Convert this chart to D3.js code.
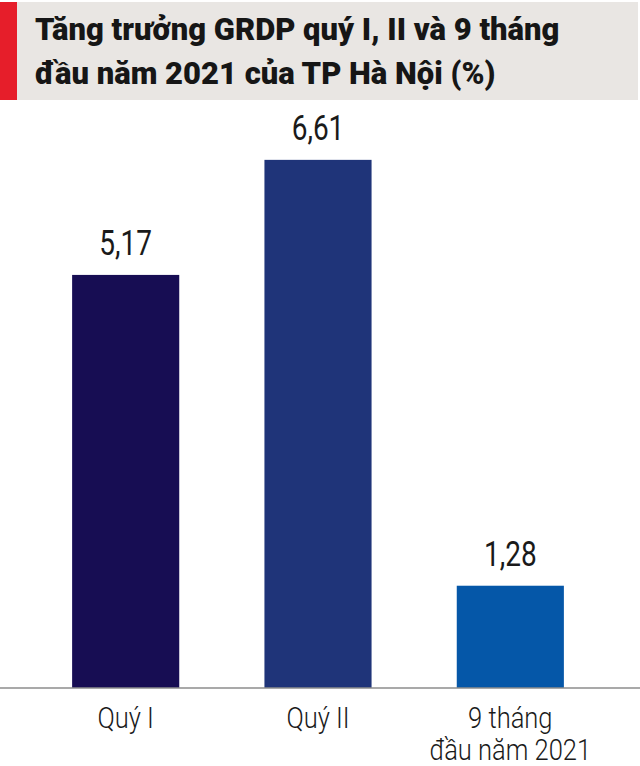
<!DOCTYPE html>
<html>
<head>
<meta charset="utf-8">
<script src="https://cdn.jsdelivr.net/npm/d3@7"></script>
<style>
  body { margin: 0; background: #fff; }
  text { font-family: Roboto, "Noto Sans", sans-serif; }
</style>
</head>
<body>
<svg id="chart"></svg>
<script>
// data
const categories = ["Quý I", "Quý II", "9 tháng\nđầu năm 2021"];
const growth = [5.17, 6.61, 1.28];
const barColors = ["#170d53", "#1f3479", "#0557a8"];
const titleLines = ["Tăng trưởng GRDP quý I, II và 9 tháng", "đầu năm 2021 của TP Hà Nội (%)"];

const width = 640, height = 766;
const baseY = 688;

const svg = d3.select("#chart")
    .attr("width", width)
    .attr("height", height);

svg.append("rect").attr("width", width).attr("height", height).attr("fill", "#fff");

// title block
svg.append("rect")
    .attr("x", 0).attr("y", 2)
    .attr("width", 638).attr("height", 98)
    .attr("fill", "#e9e6e3");
svg.append("rect")
    .attr("x", 0).attr("y", 2)
    .attr("width", 17).attr("height", 98)
    .attr("fill", "#e61e2a");

svg.selectAll(".title")
    .data(titleLines)
    .enter()
        .append("text")
        .attr("class", "title")
        .attr("transform", (d, i) => `translate(35,${40 + i * 44}) scale(1,1)`)
        .style("font-size", "31px")
        .style("font-weight", 900)
        .style("fill", "#161616")
        .text(d => d);

// scales
const x = d3.scaleBand()
    .domain(categories)
    .range([0, 636])
    .paddingInner(0.443)
    .paddingOuter(0.375);

const y = d3.scaleLinear()
    .domain([0, 7])
    .range([baseY, baseY - 7 * 79.9]);

// bars
svg.selectAll(".bar")
    .data(growth)
    .enter()
        .append("rect")
        .attr("class", "bar")
        .attr("x", (d, i) => x(categories[i]))
        .attr("y", d => y(d))
        .attr("width", x.bandwidth())
        .attr("height", d => baseY - y(d))
        .style("fill", (d, i) => barColors[i]);

// value labels
svg.selectAll(".value")
    .data(growth)
    .enter()
        .append("text")
        .attr("class", "value")
        .attr("transform", (d, i) =>
            `translate(${x(categories[i]) + x.bandwidth() / 2},${y(d) - 20}) scale(0.8,1)`)
        .attr("text-anchor", "middle")
        .style("font-size", "35px")
        .style("font-weight", 400)
        .style("fill", "#1a1a1a")
        .text(d => d3.format(".2f")(d).replace(".", ","));

// x axis
const axis = svg.append("g")
    .attr("transform", `translate(0,${baseY})`)
    .call(d3.axisBottom(x).tickSize(0).tickFormat(""));
axis.select(".domain")
    .attr("d", `M0,0H${width}`)
    .attr("stroke", "#8c8c8c")
    .attr("stroke-width", 1.5);

axis.selectAll(".tick").each(function(d) {
    const t = d3.select(this).append("text")
        .attr("transform", "translate(0,40) scale(0.88,1)")
        .attr("text-anchor", "middle")
        .style("font-size", "29px")
        .style("font-weight", 300)
        .style("fill", "#1a1a1a");
    d.split("\n").forEach((line, i) => {
        t.append("tspan").attr("x", 0).attr("dy", i ? 32 : 0).text(line);
    });
});
</script>
</body>
</html>
